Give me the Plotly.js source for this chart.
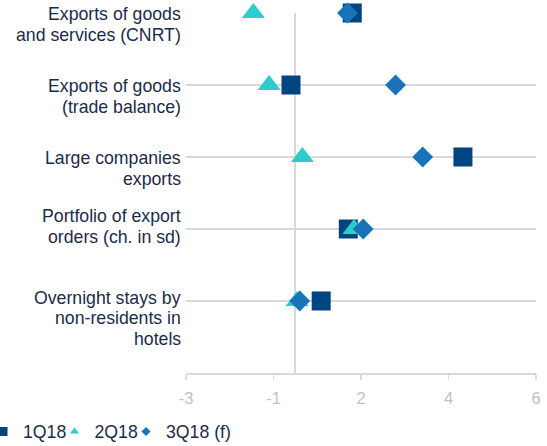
<!DOCTYPE html>
<html><head><meta charset="utf-8">
<script src="https://cdn.plot.ly/plotly-3.0.1.min.js"></script>
<style>html,body{margin:0;padding:0;background:#fff;} #chart{width:547px;height:446px;}</style>
</head><body><div id="chart"></div>
<script>
// ---- data ----
const categories = [
  "Exports of goods<br>and services (CNRT)",
  "Exports of goods<br>(trade balance)",
  "Large companies<br>exports",
  "Portfolio of export<br>orders (ch. in sd)",
  "Overnight stays by<br>non-residents in<br>hotels"
];
const seriesNames = ["1Q18", "2Q18", "3Q18 (f)"];
const q1_2018  = [1.30, -0.10, 3.83, 1.21, 0.59];
const q2_2018  = [-0.96, -0.60, 0.16, 1.34, 0.04];
const q3_2018f = [1.19, 2.29, 2.91, 1.55, 0.10];
const tickValues = [-2.5, -0.5, 1.5, 3.5, 5.5];
const tickLabels = ["-3", "-1", "2", "4", "6"];

// ---- styling / layout config ----
const FONT = '"Liberation Sans", Arial, sans-serif';
const TEXT_COLOR = '#1b2b4b';
const GRID = '#d9d9d9';
const seriesStyle = [
  {symbol: 'square',      size: 19, legendSize: 9, color: '#004481', legendWidth: 26.5},
  {symbol: 'triangle-up', size: 20, legendSize: 8, color: '#2DCCCD', legendWidth: 26.5},
  {symbol: 'diamond',     size: 16, legendSize: 7, color: '#1973B8', legendWidth: 70}
];
const labelFirstLineOffset = [0.8, 0.8, 0.8, -12.8, -3.5]; // px below gridline
const labelLineGap = 20.7;

const n = categories.length;
const rowY = categories.map((c, i) => n - i);
const seriesValues = [q1_2018, q2_2018, q3_2018f];

const traces = [];
seriesValues.forEach((vals, k) => {
  const st = seriesStyle[k];
  traces.push({
    type: 'scatter', mode: 'markers', x: vals, y: rowY,
    name: seriesNames[k], showlegend: false, cliponaxis: false,
    marker: {symbol: st.symbol, size: st.size, color: st.color, line: {width: 0}},
    hoverinfo: 'x+name'
  });
});
seriesValues.forEach((vals, k) => {
  const st = seriesStyle[k];
  traces.push({
    type: 'scatter', mode: 'markers', x: [null], y: [null],
    name: seriesNames[k], showlegend: true, legendwidth: st.legendWidth,
    marker: {symbol: st.symbol, size: st.legendSize, color: st.color, line: {width: 0}}
  });
});

const annotations = [];
categories.forEach((lab, i) => {
  lab.split('<br>').forEach((line, j) => {
    annotations.push({
      xref: 'paper', yref: 'y', x: 0, y: rowY[i],
      xanchor: 'right', yanchor: 'middle', xshift: -3,
      yshift: -(labelFirstLineOffset[i] + j * labelLineGap),
      text: line, showarrow: false, align: 'right',
      font: {family: FONT, size: 17.7, color: TEXT_COLOR}
    });
  });
});

const layout = {
  width: 547, height: 446,
  margin: {l: 186, r: 11, t: 13, b: 73, pad: 0, autoexpand: false},
  paper_bgcolor: '#ffffff', plot_bgcolor: '#ffffff',
  font: {family: FONT, color: TEXT_COLOR},
  showlegend: true,
  legend: {
    orientation: 'h', x: -0.58, xanchor: 'left', y: -0.164, yanchor: 'middle',
    entrywidthmode: 'pixels',
    font: {family: FONT, size: 17.7, color: TEXT_COLOR},
    bgcolor: 'rgba(0,0,0,0)', borderwidth: 0
  },
  xaxis: {
    range: [-2.5, 5.5], tickmode: 'array', tickvals: tickValues, ticktext: tickLabels,
    showgrid: false, zeroline: true, zerolinecolor: GRID, zerolinewidth: 2,
    showline: true, linecolor: GRID, linewidth: 1.5,
    ticks: 'outside', ticklen: 5, tickwidth: 1.5, tickcolor: GRID,
    ticklabelstandoff: 5,
    tickfont: {family: FONT, size: 16.5, color: '#bfbfbf'},
    fixedrange: true
  },
  yaxis: {
    range: [0, 5], tickmode: 'array', tickvals: rowY,
    showticklabels: false, ticks: '',
    showgrid: true, gridcolor: GRID, gridwidth: 1.5,
    zeroline: false, showline: false, fixedrange: true
  },
  annotations: annotations
};

Plotly.newPlot('chart', traces, layout, {displayModeBar: false, staticPlot: true});
</script>
</body></html>
